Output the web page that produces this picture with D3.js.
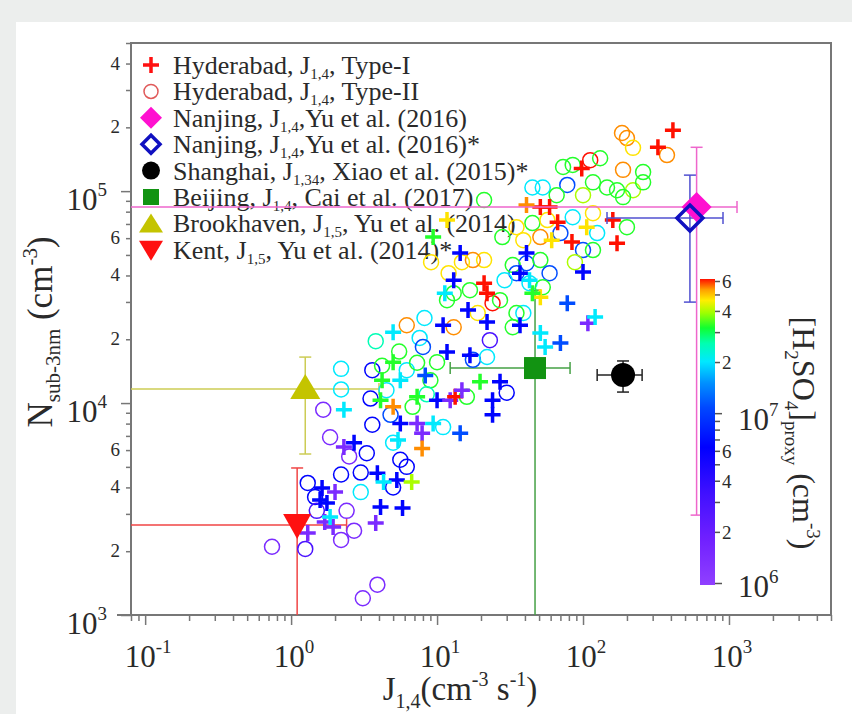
<!DOCTYPE html>
<html>
<head>
<meta charset="utf-8">
<script src="https://cdn.jsdelivr.net/npm/d3@7"></script>
<style>
body { margin: 0; background: #eceeed; }
svg { display: block; font-family: "Liberation Serif", "Times New Roman", serif; }
</style>
</head>
<body>
<script>
// Hyderabad Type-I (crosses): [J1.4, Nsub-3nm, H2SO4 proxy]
var typeI = [
	[1.63, 3970, 6.5e6], [2.0, 3800, 1.5e6], [1.58, 3490, 6.5e6], [1.76, 3380, 6.5e6],
	[1.7, 2750, 1.5e6], [1.94, 2600, 1.5e6], [1.3, 2440, 1.5e6], [1.85, 2900, 2e7],
	[3.8, 2720, 1.5e6], [4.1, 3230, 6.5e6], [5.8, 3200, 6.5e6], [3.9, 4670, 6.5e6],
	[5.3, 4330, 6.5e6], [4.3, 4240, 2e7], [6.7, 4240, 3.9e7], [2.3, 9300, 2e7],
	[2.3, 6200, 1.5e6], [2.7, 6500, 6.5e6], [5.0, 15600, 3.2e7], [5.0, 21600, 2e7],
	[4.2, 12800, 3.2e7], [5.6, 12800, 2e7], [4.1, 10300, 3.2e7], [5.0, 9600, 5.3e7],
	[5.6, 8000, 6.5e6], [7.3, 8000, 1.5e6], [7.9, 7200, 1.5e6], [7.3, 10700, 3.2e7],
	[8.3, 13500, 1.1e7], [7.9, 6100, 5.3e7], [5.4, 6700, 2e7], [9.4, 8000, 2e7],
	[10, 10300, 6.5e6], [12.3, 10300, 1.5e6], [13.3, 10700, 6e7], [14.8, 11500, 1.5e6],
	[11, 23300, 6.5e6], [11.7, 17400, 6.5e6], [16.8, 16800, 6.5e6], [16.3, 27500, 6.5e6],
	[14.4, 7200, 1.1e7], [27, 12600, 6.5e6], [24, 10300, 6.5e6], [24, 8800, 6.5e6],
	[19.7, 12600, 3.2e7], [22, 24100, 6.5e6], [37, 23300, 6.5e6], [51, 21400, 2e7],
	[55, 18400, 2e7], [70, 19200, 1.1e7], [108, 23800, 1.5e6], [121, 25500, 2e7],
	[78, 29600, 1.1e7], [413, 194000, 6e7], [326, 161000, 6e7], [98, 128000, 6e7],
	[51, 84100, 6e7], [59, 84100, 6e7], [41, 85900, 5.3e7], [160, 73000, 6e7],
	[171, 56800, 6e7], [84, 57500, 6e7], [67, 71400, 6e7], [106, 67600, 4.6e7],
	[61, 58700, 4.6e7], [11.7, 73000, 4.6e7], [9.4, 60700, 3.2e7], [41, 51000, 6.5e6],
	[14.4, 51000, 6.5e6], [100, 41500, 6.5e6], [13, 38000, 6.5e6], [21, 36800, 6e7],
	[22, 33000, 6e7], [11.3, 33000, 2e7], [37, 41000, 6.5e6], [51, 31600, 4.6e7],
	[45, 33000, 3.2e7], [43, 38000, 2e7]
];

// Hyderabad Type-II (open circles): [J1.4, Nsub-3nm, H2SO4 proxy]
var typeII = [
	[0.74, 2100, 1.5e6], [1.25, 2050, 3e6], [3.1, 1200, 1.5e6], [3.9, 1390, 1.5e6],
	[1.3, 4200, 6.5e6], [1.46, 3600, 6.5e6], [1.5, 3100, 3e6], [2.2, 4600, 6.5e6],
	[2.2, 2260, 1.5e6], [2.4, 3100, 1.5e6], [2.7, 2500, 1.5e6], [1.66, 9300, 1.5e6],
	[1.85, 6900, 1.5e6], [2.5, 5600, 1.5e6], [3.3, 5800, 6.5e6], [3.6, 7900, 6.5e6],
	[3.5, 10500, 6.5e6], [3.6, 14300, 6.5e6], [2.2, 14500, 2e7], [2.2, 11600, 2e7],
	[3.8, 19600, 2.5e7], [3.0, 4700, 6.5e6], [3.0, 3800, 2e7], [4.5, 11500, 2e7],
	[5.0, 6500, 2e7], [5.6, 5400, 6.5e6], [6.2, 5000, 6.5e6], [5.0, 4000, 6.5e6],
	[7.6, 20300, 2e7], [8.0, 18400, 1.1e7], [6.2, 14300, 2e7], [7.3, 15500, 3.2e7],
	[10, 15600, 3.2e7], [9.0, 12800, 3.2e7], [11, 7700, 2e7], [6.8, 9600, 3.2e7],
	[17.6, 16000, 1.1e7], [22, 16500, 2e7], [23, 19800, 3e6], [30, 11200, 6.5e6],
	[13, 22800, 5.3e7], [16, 10700, 3.2e7], [39, 26600, 2e7], [33, 22800, 3.2e7],
	[185, 188000, 5.3e7], [200, 178000, 5.3e7], [220, 160000, 4.6e7], [376, 148000, 5.3e7],
	[112, 140000, 6e7], [131, 143000, 3.2e7], [73, 130000, 3.2e7], [85, 133000, 3.2e7],
	[188, 126000, 5.3e7], [258, 123000, 3.2e7], [45, 104000, 2e7], [53, 104000, 2e7],
	[78, 107000, 1.1e7], [117, 110000, 3.2e7], [146, 104000, 3.2e7], [171, 101000, 3.2e7],
	[220, 101000, 3.9e7], [258, 110000, 3.2e7], [66, 95700, 3.2e7], [100, 95700, 3.9e7],
	[188, 93700, 3.2e7], [85, 75300, 2e7], [117, 78700, 4.6e7], [200, 67600, 3.2e7],
	[125, 63400, 2e7], [45, 70700, 3.2e7], [57, 73000, 4.6e7], [35, 67600, 4.6e7],
	[39, 58700, 4.6e7], [70, 63400, 1.1e7], [51, 60700, 5.3e7], [28, 60700, 3.2e7],
	[21, 90700, 3.2e7], [21, 47300, 4.6e7], [12, 41000, 4.6e7], [17.6, 47300, 5.3e7],
	[100, 52700, 1.1e7], [117, 52700, 3.2e7], [41, 45700, 1.1e7], [51, 47300, 3.2e7],
	[59, 41000, 1.1e7], [35, 41000, 1.1e7], [43, 36800, 2e7], [53, 35200, 3.2e7],
	[35, 26600, 3.2e7], [24, 29600, 6e7], [19, 26600, 4.6e7], [13, 33000, 3.2e7],
	[6.2, 23300, 5.3e7], [9.1, 46200, 4.6e7], [14.8, 46200, 4.6e7], [11.7, 30600, 3.2e7],
	[8.2, 25200, 2e7], [16.8, 34100, 3.2e7], [29, 38000, 2e7], [27, 30600, 3.2e7],
	[33, 44800, 3.2e7], [88, 46200, 3.9e7], [4.2, 15000, 3.2e7], [5.5, 17500, 3.2e7],
	[8.5, 11000, 2.5e7], [4.8, 8800, 1.1e7]
];

// other sites: [J, N, Jlow, Jhigh, Nlow, Nhigh]
var nanjing     = [600, 84100, 0.05, 1135, 2960, 161000];
var nanjingStar = [540, 74600, 146, 910, 29950, 119000];
var shanghai    = [188, 13550, 125, 254, 11270, 15800];
var beijing     = [46.9, 14630, 12.3, 81.5, 500, 34100];
var brookhaven  = [1.25, 11650, 0.05, 4, 5750, 16480];
var kent        = [1.1, 2660, 0.05, 2.4, 500, 4940];

var legendRows = [
	{pre: "Hyderabad, J", sub: "1,4", post: ", Type-I", sym: "cross"},
	{pre: "Hyderabad, J", sub: "1,4", post: ", Type-II", sym: "circle"},
	{pre: "Nanjing, J", sub: "1,4", post: ",Yu et al. (2016)", sym: "diamond"},
	{pre: "Nanjing, J", sub: "1,4", post: ",Yu et al. (2016)*", sym: "odiamond"},
	{pre: "Shanghai, J", sub: "1,34", post: ", Xiao et al. (2015)*", sym: "dot"},
	{pre: "Beijing, J", sub: "1,4", post: ", Cai et al. (2017)", sym: "square"},
	{pre: "Brookhaven, J", sub: "1,5", post: ", Yu et al. (2014)", sym: "tri"},
	{pre: "Kent, J", sub: "1,5", post: ", Yu et al. (2014)*", sym: "dtri"}
];

var xDecades = [-1, 0, 1, 2, 3];
var yDecades = [3, 4, 5];
var cDecades = [6, 7];

var W = 852, H = 714;
var axisCol = "#777";
var textCol = "#2a2a2a";

var svg = d3.select("body").append("svg")
	.attr("width", W)
	.attr("height", H);

svg.append("rect")
	.attr("x", 16).attr("y", 22)
	.attr("width", W - 16).attr("height", H - 22)
	.attr("fill", "#fff");

var x = d3.scaleLog().domain([0.08, 5000]).range([131, 831]);
var y = d3.scaleLog().domain([1000, 5e5]).range([615, 43]);

// colour map for [H2SO4]proxy
var cScale = d3.scaleLog().domain([1e6, 6e7]).range([0, 1]).clamp(true);
var cmap = d3.scaleLinear()
	.domain([0, 0.15, 0.3, 0.45, 0.58, 0.66, 0.73, 0.79, 0.84, 0.89, 0.93, 0.965, 1])
	.range(["#9040ff", "#7020ff", "#4010ff", "#0000ff", "#0048ff", "#0090ff", "#00e8ff",
		"#00ffb0", "#10ff30", "#a0ff00", "#ffee00", "#ffa000", "#ff1000"]);
function color(v) { return cmap(cScale(v)); }

function logTicks(lo, hi) {
	var out = [];
	for (var e = Math.floor(Math.log10(lo)); e <= Math.ceil(Math.log10(hi)); e++) {
		for (var k = 1; k < 10; k++) {
			var v = k * Math.pow(10, e);
			if (v >= lo * 0.999 && v <= hi * 1.001) out.push(v);
		}
	}
	return out;
}
function mant(v) { return Math.round(v / Math.pow(10, Math.floor(Math.log10(v) + 1e-9))); }

// ---- axes ----
var gx = svg.append("g").attr("transform", "translate(0,615)")
	.call(d3.axisBottom(x).tickValues(logTicks(0.08, 5000)).tickFormat("").tickSizeOuter(0));
gx.select(".domain").remove();
gx.selectAll(".tick line")
	.attr("y2", function(d) { return mant(d) === 1 ? 10 : 6; })
	.attr("stroke", axisCol).attr("stroke-width", 1.5);

var gy = svg.append("g").attr("transform", "translate(131,0)")
	.call(d3.axisLeft(y).tickValues(logTicks(1000, 5e5)).tickFormat("").tickSizeOuter(0));
gy.select(".domain").remove();
gy.selectAll(".tick line")
	.attr("x2", function(d) { return mant(d) === 1 ? -10 : -5; })
	.attr("stroke", axisCol).attr("stroke-width", 1.5);

// frame
svg.append("path")
	.attr("d", "M117,615H831V43H131V615")
	.attr("fill", "none").attr("stroke", axisCol).attr("stroke-width", 2);

// x tick labels
var xl = svg.selectAll(".xlab").data(xDecades).enter().append("text")
	.attr("class", "xlab")
	.attr("x", function(d) { return x(Math.pow(10, d)) + 3; })
	.attr("y", 667)
	.attr("text-anchor", "middle")
	.attr("font-size", 31)
	.attr("fill", textCol);
xl.append("tspan").text("10");
xl.append("tspan").attr("dy", -14).attr("font-size", 19).text(function(d) { return d; });

// y tick labels
var yl = svg.selectAll(".ylab").data(yDecades).enter().append("text")
	.attr("class", "ylab")
	.attr("x", 107)
	.attr("y", function(d) { return y(Math.pow(10, d)) + 19; })
	.attr("text-anchor", "end")
	.attr("font-size", 31)
	.attr("fill", textCol);
yl.append("tspan").text("10");
yl.append("tspan").attr("dy", -14).attr("font-size", 19).text(function(d) { return d; });

svg.selectAll(".ymin").data(logTicks(1000, 5e5).filter(function(d) {
		var m = mant(d); return m === 2 || m === 4 || m === 6;
	}))
	.enter().append("text")
	.attr("class", "ymin")
	.attr("x", 120)
	.attr("y", function(d) { return y(d) + 6; })
	.attr("text-anchor", "end")
	.attr("font-size", 19)
	.attr("fill", textCol)
	.text(function(d) { return mant(d); });

// axis titles
var xt = svg.append("text")
	.attr("x", 460).attr("y", 700)
	.attr("text-anchor", "middle")
	.attr("font-size", 33)
	.attr("fill", textCol);
xt.append("tspan").text("J");
xt.append("tspan").attr("dy", 8).attr("font-size", 20).text("1,4");
xt.append("tspan").attr("dy", -8).text("(cm");
xt.append("tspan").attr("dy", -14).attr("font-size", 20).text("-3");
xt.append("tspan").attr("dy", 14).text(" s");
xt.append("tspan").attr("dy", -14).attr("font-size", 20).text("-1");
xt.append("tspan").attr("dy", 14).text(")");

var yt = svg.append("text")
	.attr("transform", "translate(52,332) rotate(-90)")
	.attr("text-anchor", "middle")
	.attr("font-size", 35)
	.attr("fill", textCol);
yt.append("tspan").text("N");
yt.append("tspan").attr("dy", 8).attr("font-size", 21).text("sub-3nm");
yt.append("tspan").attr("dy", -8).text(" (cm");
yt.append("tspan").attr("dy", -15).attr("font-size", 21).text("-3");
yt.append("tspan").attr("dy", 15).text(")");

// ---- legend ----
var symPath = {
	cross: "M-8,0H8M0,-8V8",
	circle: "M7,0A7,7 0 1,1 -7,0A7,7 0 1,1 7,0",
	diamond: "M0,-11L11,0L0,11L-11,0Z",
	odiamond: "M0,-9L9,0L0,9L-9,0Z",
	dot: "M9,0A9,9 0 1,1 -9,0A9,9 0 1,1 9,0",
	square: "M-8,-8H8V8H-8Z",
	tri: "M0,-10L12,9H-12Z",
	dtri: "M-12,-9H12L0,11Z"
};
var symStyle = {
	cross: {fill: "none", stroke: "#ff1010", w: 3.5},
	circle: {fill: "none", stroke: "#e05a5a", w: 1.5},
	diamond: {fill: "#ff10d0", stroke: "none", w: 0},
	odiamond: {fill: "none", stroke: "#1010c0", w: 3.5},
	dot: {fill: "#000", stroke: "none", w: 0},
	square: {fill: "#129312", stroke: "none", w: 0},
	tri: {fill: "#c4c400", stroke: "none", w: 0},
	dtri: {fill: "#ff1010", stroke: "none", w: 0}
};

var leg = svg.selectAll(".leg").data(legendRows).enter().append("g")
	.attr("class", "leg")
	.attr("transform", function(d, i) { return "translate(151," + (65 + i * 26.4) + ")"; });
leg.append("path")
	.attr("d", function(d) { return symPath[d.sym]; })
	.attr("fill", function(d) { return symStyle[d.sym].fill; })
	.attr("stroke", function(d) { return symStyle[d.sym].stroke; })
	.attr("stroke-width", function(d) { return symStyle[d.sym].w; });
var lt = leg.append("text")
	.attr("x", 22).attr("y", 9)
	.attr("font-size", 26)
	.attr("fill", textCol);
lt.append("tspan").text(function(d) { return d.pre; });
lt.append("tspan").attr("dy", 5).attr("font-size", 15).text(function(d) { return d.sub; });
lt.append("tspan").attr("dy", -5).text(function(d) { return d.post; });

// ---- plot area ----
svg.append("clipPath").attr("id", "clip")
	.append("rect").attr("x", 131).attr("y", 43).attr("width", 700).attr("height", 572);
var plot = svg.append("g").attr("clip-path", "url(#clip)");

function errorBars(d, col, w) {
	var g = plot.append("g").attr("stroke", col).attr("stroke-width", w).attr("fill", "none");
	g.append("line").attr("x1", x(d[2])).attr("x2", x(d[3])).attr("y1", y(d[1])).attr("y2", y(d[1]));
	g.append("line").attr("x1", x(d[0])).attr("x2", x(d[0])).attr("y1", y(d[4])).attr("y2", y(d[5]));
	[d[2], d[3]].forEach(function(v) {
		g.append("line").attr("x1", x(v)).attr("x2", x(v)).attr("y1", y(d[1]) - 6).attr("y2", y(d[1]) + 6);
	});
	[d[4], d[5]].forEach(function(v) {
		g.append("line").attr("x1", x(d[0]) - 6).attr("x2", x(d[0]) + 6).attr("y1", y(v)).attr("y2", y(v));
	});
}
errorBars(brookhaven, "#cccc55", 1.5);
errorBars(kent, "#f04545", 1.5);
errorBars(beijing, "#45a045", 1.5);

// Type-II circles
plot.selectAll(".c2").data(typeII).enter().append("circle")
	.attr("class", "c2")
	.attr("cx", function(d) { return x(d[0]); })
	.attr("cy", function(d) { return y(d[1]); })
	.attr("r", 7.5)
	.attr("fill", "none")
	.attr("stroke", function(d) { return color(d[2]); })
	.attr("stroke-width", 1.5);

// Type-I crosses
plot.selectAll(".c1").data(typeI).enter().append("path")
	.attr("class", "c1")
	.attr("transform", function(d) { return "translate(" + x(d[0]) + "," + y(d[1]) + ")"; })
	.attr("d", "M-8,0H8M0,-8V8")
	.attr("stroke", function(d) { return color(d[2]); })
	.attr("stroke-width", 3.5);

errorBars(shanghai, "#222", 1.5);
errorBars(nanjing, "#ee66cc", 1.5);
errorBars(nanjingStar, "#5050d0", 1.5);

function marker(d, path, fill, stroke, w) {
	plot.append("path")
		.attr("transform", "translate(" + x(d[0]) + "," + y(d[1]) + ")")
		.attr("d", path)
		.attr("fill", fill)
		.attr("stroke", stroke)
		.attr("stroke-width", w);
}
marker(brookhaven, "M0,-15L15,10H-15Z", "#c4c400", "none", 0);
marker(kent, "M-14,-11H14L0,14Z", "#ff1010", "none", 0);
marker(beijing, "M-11,-11H11V11H-11Z", "#129312", "none", 0);
marker(shanghai, "M12,0A12,12 0 1,1 -12,0A12,12 0 1,1 12,0", "#000", "none", 0);
marker(nanjing, "M0,-15L15,0L0,15L-15,0Z", "#ff10d0", "none", 0);
marker(nanjingStar, "M0,-13L13,0L0,13L-13,0Z", "none", "#1010c0", 3.5);

// ---- colour bar ----
var cy = d3.scaleLog().domain([1e6, 6e7]).range([583, 281]);
var grad = svg.append("defs").append("linearGradient")
	.attr("id", "cbar").attr("x1", 0).attr("x2", 0).attr("y1", 1).attr("y2", 0);
grad.selectAll("stop").data(cmap.domain()).enter().append("stop")
	.attr("offset", function(d) { return d; })
	.attr("stop-color", function(d) { return cmap(d); });
svg.append("rect")
	.attr("x", 700).attr("y", cy(6e7) - 2)
	.attr("width", 15).attr("height", cy(1e6) - cy(6e7) + 4)
	.attr("fill", "url(#cbar)");

var gc = svg.append("g").attr("transform", "translate(715,0)")
	.call(d3.axisRight(cy).tickValues(logTicks(1e6, 6e7)).tickFormat("").tickSizeOuter(0));
gc.select(".domain").remove();
gc.selectAll(".tick line")
	.attr("x2", function(d) { return mant(d) === 1 ? 7 : 5; })
	.attr("stroke", "#555").attr("stroke-width", 1.5);

svg.selectAll(".cmin").data(logTicks(1e6, 6e7).filter(function(d) {
		var m = mant(d); return m === 2 || m === 4 || m === 6;
	}))
	.enter().append("text")
	.attr("class", "cmin")
	.attr("x", 722)
	.attr("y", function(d) { return cy(d) + 7; })
	.attr("font-size", 19)
	.attr("fill", textCol)
	.text(function(d) { return mant(d); });

var cl = svg.selectAll(".clab").data(cDecades).enter().append("text")
	.attr("class", "clab")
	.attr("x", 738)
	.attr("y", function(d) { return cy(Math.pow(10, d)) + (d === 6 ? 14 : 17); })
	.attr("font-size", 31)
	.attr("fill", textCol);
cl.append("tspan").text("10");
cl.append("tspan").attr("dy", -14).attr("font-size", 19).text(function(d) { return d; });

var ct = svg.append("text")
	.attr("transform", "translate(793,433) rotate(90)")
	.attr("text-anchor", "middle")
	.attr("font-size", 32)
	.attr("fill", textCol);
ct.append("tspan").text("[H");
ct.append("tspan").attr("dy", 8).attr("font-size", 19).text("2");
ct.append("tspan").attr("dy", -8).text("SO");
ct.append("tspan").attr("dy", 8).attr("font-size", 19).text("4");
ct.append("tspan").attr("dy", -8).text("]");
ct.append("tspan").attr("dy", 8).attr("font-size", 19).text("proxy");
ct.append("tspan").attr("dy", -8).text(" (cm");
ct.append("tspan").attr("dy", -14).attr("font-size", 19).text("-3");
ct.append("tspan").attr("dy", 14).text(")");
</script>
</body>
</html>
